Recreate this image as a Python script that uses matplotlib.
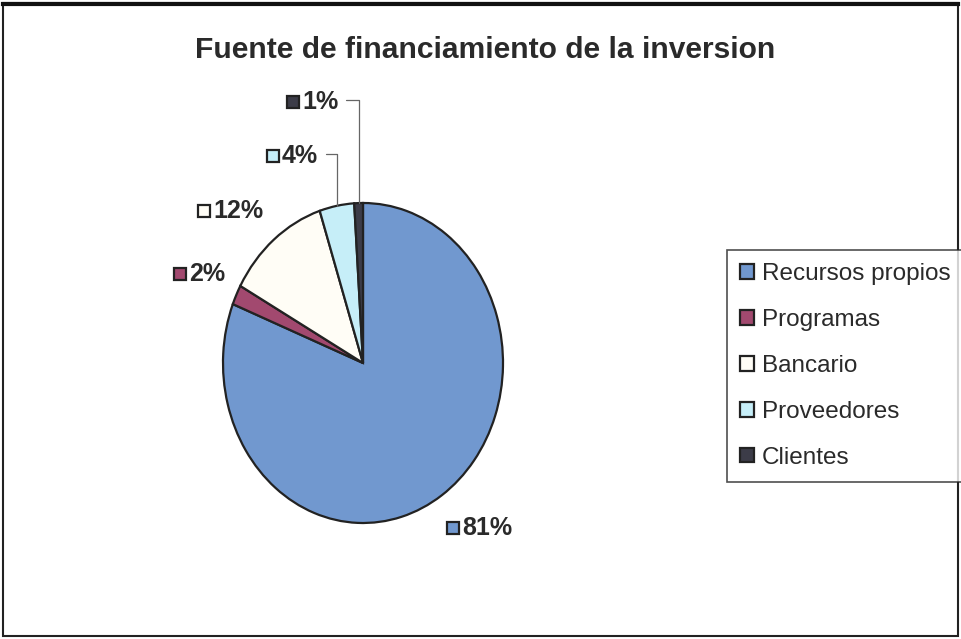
import numpy as np
import matplotlib
matplotlib.use("Agg")
import matplotlib.pyplot as plt
from matplotlib.patches import Rectangle

plt.rcParams['font.family'] = ['Liberation Sans', 'DejaVu Sans']

categories = ["Recursos propios", "Programas", "Bancario", "Proveedores", "Clientes"]
values = [81, 2, 12, 4, 1]
labels = ["81%", "2%", "12%", "4%", "1%"]
colors = ["#7198cf", "#a2496f", "#fffdf6", "#c6eef8", "#3c3c48"]

W, H = 962, 639
fig = plt.figure(figsize=(W / 100, H / 100), dpi=100)

def fx(px):
    return px / W

def fy(py):
    return 1 - py / H

# pie is an ellipse: 280 px wide, 320 px tall
ax = fig.add_axes([fx(223), fy(523), fx(280), 320 / H])
wedges, _ = ax.pie(values, colors=colors, startangle=90, counterclock=False,
                   wedgeprops=dict(edgecolor="#222222", linewidth=1.6))
ax.set_aspect("auto")
ax.set_xlim(-1, 1)
ax.set_ylim(-1, 1)

# label positions (image pixels: left of square, center y)
label_pos = [(447, 528), (174, 274), (198, 211), (267, 156), (287, 102)]
leaders = [False, False, False, True, True]

for w, lab, (px, py), lead, c in zip(wedges, labels, label_pos, leaders, colors):
    fig.add_artist(Rectangle((fx(px), fy(py + 6)), fx(12), 12 / H, transform=fig.transFigure,
                             facecolor=c, edgecolor="#222222", linewidth=1.6))
    fig.text(fx(px + 15), fy(py), lab, fontsize=18, fontweight="bold",
             ha="left", va="center", color="#2a2a2a")
    if lead:
        ang = np.deg2rad((w.theta1 + w.theta2) / 2)
        ax.annotate("", xy=(np.cos(ang), np.sin(ang)), xycoords="data",
                    xytext=(fx(px + 15 + 44), fy(py - 2)), textcoords="figure fraction",
                    arrowprops=dict(arrowstyle="-", color="#666666", lw=0.9,
                                    shrinkA=0, shrinkB=0,
                                    connectionstyle="angle,angleA=0,angleB=90,rad=0"),
                    annotation_clip=False)

fig.text(fx(485), fy(50), "Fuente de financiamiento de la inversion", fontsize=21.6,
         fontweight="bold", ha="center", va="center", color="#2a2a2a")

leg = fig.legend(wedges, categories, loc="upper left",
                 bbox_to_anchor=(fx(727), fy(250)), frameon=True, fancybox=False,
                 fontsize=17.5, handlelength=0.55, handleheight=0.55, handletextpad=0.35,
                 labelspacing=0.98, borderpad=0.55, borderaxespad=0)
leg.get_frame().set_edgecolor("#222222")
leg.get_frame().set_linewidth(1.2)
for txt in leg.get_texts():
    txt.set_color("#2a2a2a")

# chart border
fig.add_artist(Rectangle((fx(3), fy(636)), fx(955), 633 / H, transform=fig.transFigure,
                         fill=False, edgecolor="#222222", linewidth=1.5))
fig.add_artist(plt.Line2D([fx(3), fx(958)], [fy(4), fy(4)], transform=fig.transFigure,
                          color="#111111", linewidth=3))

fig.savefig("out.png", dpi=100, facecolor="white")
